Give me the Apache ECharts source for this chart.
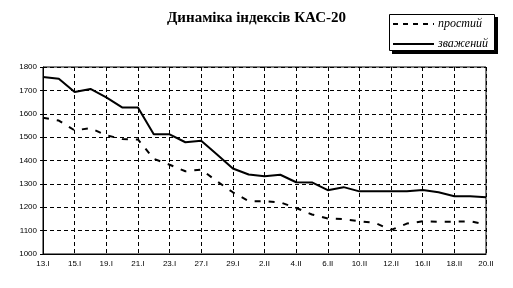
<!DOCTYPE html>
<html>
<head>
<meta charset="utf-8">
<script src="https://cdn.jsdelivr.net/npm/echarts@6/dist/echarts.min.js"></script>
<style>
html,body{margin:0;padding:0;background:#fff;}
#c{width:513px;height:288px;}
</style>
</head>
<body>
<div id="c"></div>
<script>
const titleText = 'Динаміка індексів КАС-20';
const categories = ['13.I','14.I','15.I','16.I','19.I','20.I','21.I','22.I','23.I','26.I','27.I','28.I','29.I','30.I',
  '2.II','3.II','4.II','5.II','6.II','9.II','10.II','11.II','12.II','13.II','16.II','17.II','18.II','19.II','20.II'];
const simpleName = 'простий';
const weightedName = 'зважений';
const simpleValues = [1583,1571,1529,1538,1508,1492,1490,1407,1382,1354,1361,1311,1264,1226,1226,1221,1197,1169,1152,1149,1140,1133,1103,1130,1140,1138,1138,1140,1126];
const weightedValues = [1757,1750,1693,1706,1670,1627,1627,1512,1512,1478,1484,1426,1366,1340,1333,1339,1307,1306,1273,1286,1268,1268,1268,1268,1274,1264,1247,1247,1243];
const yMin = 1000, yMax = 1800, yStep = 100;

const dashPattern = [6,8];
const chart = echarts.init(document.getElementById('c'), null, {renderer:'canvas'});
chart.setOption({
  animation:false,
  backgroundColor:'#fff',
  title:{
    text:titleText, left:'center', top:6,
    textStyle:{fontFamily:'Liberation Serif', fontWeight:'bold', fontSize:15, color:'#000'}
  },
  graphic:[
    {type:'rect', shape:{x:392, y:17, width:106, height:37}, style:{fill:'#000'}, z:100},
    {type:'rect', shape:{x:389.5, y:14.5, width:105, height:36}, style:{fill:'#fff', stroke:'#000', lineWidth:1}, z:101},
    {type:'line', shape:{x1:393, y1:24, x2:434, y2:24}, style:{stroke:'#000', lineWidth:2, lineDash:[5,5]}, z:102},
    {type:'line', shape:{x1:393, y1:44, x2:434, y2:44}, style:{stroke:'#000', lineWidth:2}, z:102},
    {type:'text', x:438, y:24, style:{text:simpleName, fill:'#000', font:'italic 12px "Liberation Serif"', textVerticalAlign:'middle', verticalAlign:'middle'}, z:102},
    {type:'text', x:438, y:44, style:{text:weightedName, fill:'#000', font:'italic 12px "Liberation Serif"', textVerticalAlign:'middle', verticalAlign:'middle'}, z:102}
  ],
  grid:{left:43, top:67, right:27, bottom:34, show:true, borderColor:'#000', borderWidth:1},
  xAxis:{
    type:'category', data:categories, boundaryGap:false,
    axisLine:{lineStyle:{color:'#000', width:1}},
    axisTick:{show:false},
    axisLabel:{interval:1, fontFamily:'Liberation Sans', fontSize:8, color:'#000', margin:6},
    splitLine:{show:true, interval:1, lineStyle:{color:'#000', type:[4,3], width:1}}
  },
  yAxis:{
    type:'value', min:yMin, max:yMax, interval:yStep,
    axisLine:{show:true, lineStyle:{color:'#000', width:1}},
    axisTick:{show:true, length:3, lineStyle:{color:'#000'}},
    axisLabel:{fontFamily:'Liberation Sans', fontSize:8, color:'#000', margin:6, formatter:function(v){return String(v);}},
    splitLine:{show:true, lineStyle:{color:'#000', type:[4,3], width:1}}
  },
  series:[
    {name:simpleName, type:'line', data:simpleValues, symbol:'none', showSymbol:false,
     lineStyle:{color:'#000', width:2, type:dashPattern}, itemStyle:{color:'#000'}},
    {name:weightedName, type:'line', data:weightedValues, symbol:'none', showSymbol:false,
     lineStyle:{color:'#000', width:2, type:'solid'}, itemStyle:{color:'#000'}}
  ]
});
</script>
</body>
</html>
